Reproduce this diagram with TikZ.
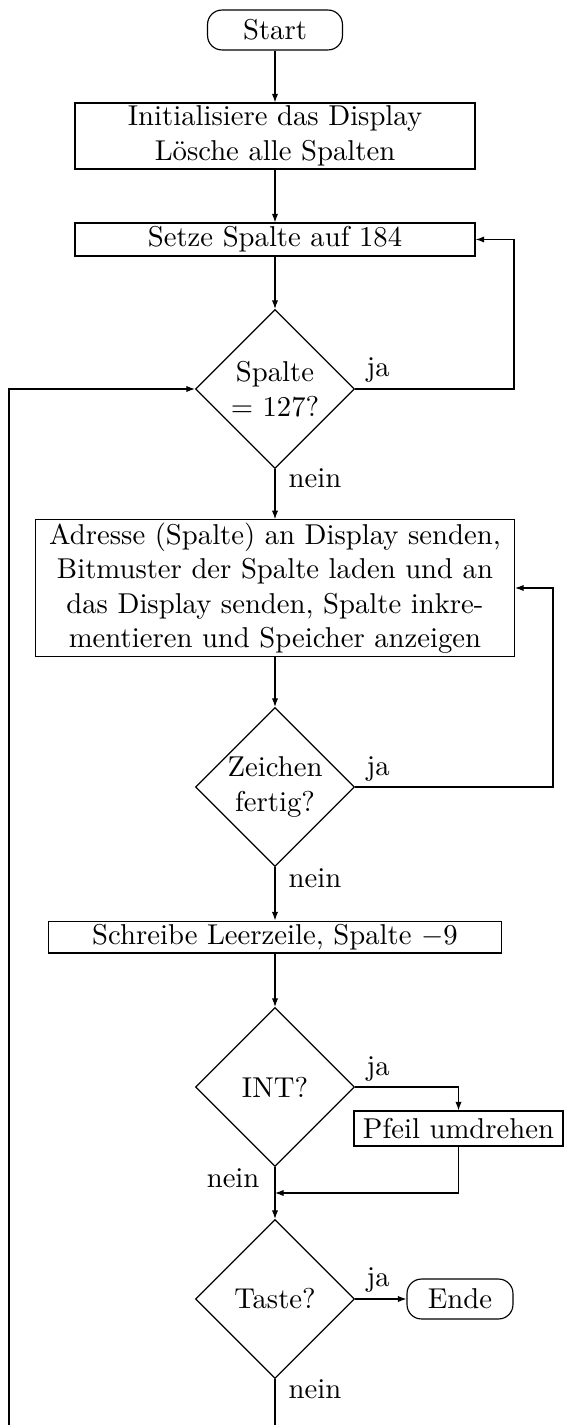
\documentclass[tikz,border=0pt]{standalone}
\usetikzlibrary{shapes.geometric,arrows.meta}
\begin{document}
\begin{tikzpicture}[x=0.34843pt,y=-0.34843pt,
  box/.style={draw, rectangle, inner sep=1pt, align=center},
  term/.style={draw, rectangle, rounded corners=5pt, inner sep=1pt},
  dec/.style={draw, diamond, aspect=1, inner sep=-12pt, minimum width=55.4pt, minimum height=55.4pt, align=center},
  lbl/.style={inner sep=0pt, anchor=base west},
  arr/.style={-{Latex[length=3pt,width=2.2pt]}}]
\useasboundingbox (0,0) rectangle (565,1425);

\node[term, minimum width=47pt, minimum height=13.9pt] (start) at (275,30) {Start};
\node[box, minimum width=139.4pt, minimum height=23pt] (init) at (275,136) {Initialisiere das Display\\Lösche alle Spalten};
\node[box, minimum width=139.4pt, minimum height=11.5pt] (set) at (275,239.5) {Setze Spalte auf 184};
\node[dec] (d1) at (275,389) {Spalte\\$=$ 127?};
\node[box, minimum width=166.9pt, minimum height=46pt] (send) at (275,588) {Adresse (Spalte) an Display senden,\\Bitmuster der Spalte laden und an\\das Display senden, Spalte inkre-\\mentieren und Speicher anzeigen};
\node[dec] (d2) at (275,787) {Zeichen\\fertig?};
\node[box, minimum width=157.8pt, minimum height=11.1pt] (clr) at (275,937) {Schreibe Leerzeile, Spalte $-9$};
\node[dec] (d3) at (275,1087) {INT?};
\node[box, minimum width=72.8pt, minimum height=12.2pt] (arrow) at (458.5,1128.5) {Pfeil umdrehen};
\node[dec] (d4) at (275,1299) {Taste?};
\node[term, minimum width=36.9pt, minimum height=13.9pt] (ende) at (460,1299) {Ende};

\coordinate (r1) at (514,0);
\coordinate (r2) at (553,0);
\coordinate (l1) at (9,1425);
\coordinate (bot) at (275,1425);
\coordinate (join) at (275,1193);

\draw[arr] (start) -- (init);
\draw[arr] (init) -- (set);
\draw[arr] (set) -- (d1);
\draw[arr] (d1.east) -| (r1 |- set.east) -- (set.east);
\draw[arr] (d1) -- (send);
\draw[arr] (send) -- (d2);
\draw[arr] (d2.east) -| (r2 |- send.east) -- (send.east);
\draw[arr] (d2) -- (clr);
\draw[arr] (clr) -- (d3);
\draw[arr] (d3.east) -| (arrow.north);
\draw[arr] (arrow.south) |- (join);
\draw[arr] (d3) -- (d4);
\draw[arr] (d4) -- (ende);
\draw (d4.south) -- (bot);
\draw[arr] (l1) |- (d1.west);

\node[lbl] (ja1) at (366,377) {ja};
\node[lbl] (nein1) at (288,488) {nein};
\node[lbl] (ja2) at (366,775) {ja};
\node[lbl] (nein2) at (288,887) {nein};
\node[lbl] (ja3) at (366,1075) {ja};
\node[inner sep=0pt, anchor=base east] (nein3) at (260,1187) {nein};
\node[lbl] (ja4) at (366,1286) {ja};
\node[lbl] (nein4) at (288,1398) {nein};
\end{tikzpicture}
\end{document}
